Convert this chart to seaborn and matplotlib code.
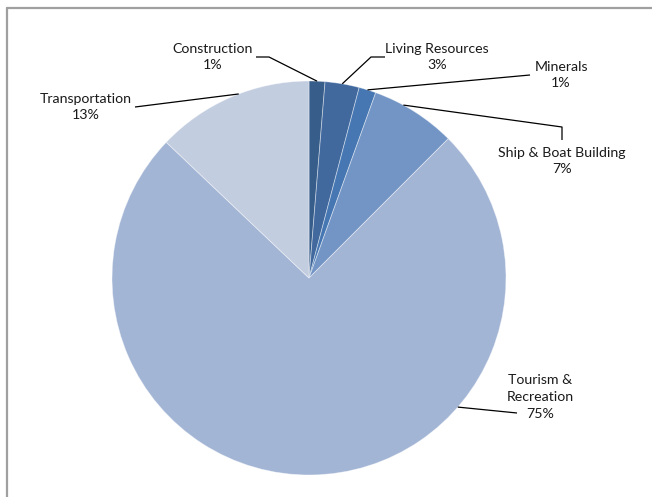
import numpy as np
import matplotlib
matplotlib.use("Agg")
import matplotlib.pyplot as plt
from matplotlib.lines import Line2D
import seaborn as sns

# Ocean economy employment shares by sector (percent)
sectors = ["Construction", "Living Resources", "Minerals",
           "Ship & Boat Building", "Tourism &\nRecreation", "Transportation"]
shares = [1.3, 2.8, 1.4, 7.0, 74.6, 12.9]
colors = ["#375D8B", "#41699E", "#4677B2", "#7395C5", "#A3B5D5", "#C3CDE0"]

sns.set_theme(style="white")
plt.rcParams["font.family"] = ["Lato", "DejaVu Sans"]

W, H = 652, 497
fig = plt.figure(figsize=(W / 100, H / 100), dpi=100)
fig.patch.set_facecolor("white")

# Pie placement in pixels: centre and radius
cx, cy, R = 309, 278, 197
ax = fig.add_axes([(cx - R) / W, (H - cy - R) / H, 2 * R / W, 2 * R / H])

wedges, _ = ax.pie(shares, colors=colors, startangle=90, counterclock=False,
                   radius=1.0,
                   wedgeprops=dict(edgecolor=(1, 1, 1, 0.45), linewidth=0.6))
ax.set_xlim(-1, 1)
ax.set_ylim(-1, 1)
ax.set_aspect("equal")
ax.axis("off")


def to_data(px, py):
    return (px - cx) / R, (cy - py) / R


# Label layout: text centre (pixels), fraction along wedge for the leader
# anchor, and intermediate elbow points (pixels) of the leader line
layout = [
    dict(text=(213, 57), frac=0.5, path=[(256, 57), (269, 57)]),
    dict(text=(437, 57), frac=0.5, path=[(385, 57), (371, 57)]),
    dict(text=(561, 75), frac=0.5, path=[(530, 75)]),
    dict(text=(562, 161), frac=0.35, path=[(562, 140), (562, 127)]),
    dict(text=(540, 397), frac=0.32, path=[(517, 413)]),
    dict(text=(86, 107), frac=0.55, path=[(135, 107)]),
]

cum = np.concatenate([[0], np.cumsum(shares)]) / np.sum(shares) * 360.0
for i, (name, val) in enumerate(zip(sectors, shares)):
    spec = layout[i]
    cw = cum[i] + spec["frac"] * (cum[i + 1] - cum[i])
    ang = np.deg2rad(90 - cw)
    anchor = (np.cos(ang), np.sin(ang))
    pts = [to_data(*p) for p in spec["path"]] + [anchor]
    xs, ys = zip(*pts)
    ax.plot(xs, ys, color="black", lw=0.9, clip_on=False,
            solid_capstyle="butt")
    tx, ty = to_data(*spec["text"])
    ax.text(tx, ty, f"{name}\n{val:.0f}%", ha="center", va="center",
            fontsize=10.2, color="#1a1a1a", linespacing=1.45)

# Chart frame (top and left edges visible)
frame_col = "#A0A0A0"
fig.add_artist(Line2D([7 / W, 7 / W], [0, 1 - 8 / H], transform=fig.transFigure,
                      color=frame_col, lw=1.6))
fig.add_artist(Line2D([7 / W, 1], [1 - 8 / H, 1 - 8 / H], transform=fig.transFigure,
                      color=frame_col, lw=1.6))

fig.savefig("out.png", dpi=100, facecolor="white")
